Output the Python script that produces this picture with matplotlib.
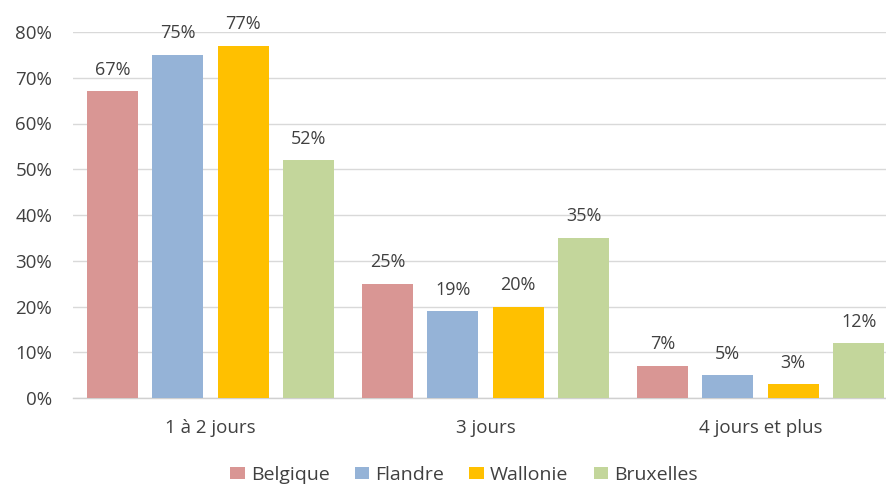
import matplotlib
matplotlib.use("Agg")
import matplotlib.pyplot as plt
import numpy as np
from matplotlib.ticker import FuncFormatter

categories = ["1 à 2 jours", "3 jours", "4 jours et plus"]
series_names = ["Belgique", "Flandre", "Wallonie", "Bruxelles"]
belgique = [67, 25, 7]
flandre = [75, 19, 5]
wallonie = [77, 20, 3]
bruxelles = [52, 35, 12]
colors = ["#d99694", "#95b3d7", "#ffc000", "#c3d69b"]
y_ticks = [0, 10, 20, 30, 40, 50, 60, 70, 80]

values = [belgique, flandre, wallonie, bruxelles]
text_color = "#404040"

plt.rcParams["font.family"] = ["Open Sans", "DejaVu Sans"]

fig = plt.figure(figsize=(8.86, 4.88), dpi=100)
ax = fig.add_axes([73 / 886, 90 / 488, 825 / 886, 366 / 488])

x = np.arange(len(categories))
pitch = 0.238
width = 0.186
for i, (name, vals, col) in enumerate(zip(series_names, values, colors)):
    pos = x + (i - 1.5) * pitch
    bars = ax.bar(pos, vals, width=width, color=col, label=name, zorder=3)
    for b, v in zip(bars, vals):
        ax.annotate(f"{v}%", (b.get_x() + b.get_width() / 2, v),
                    xytext=(0, 9), textcoords="offset points",
                    ha="center", va="bottom", fontsize=13,
                    color=text_color, clip_on=False)

ax.set_xlim(-0.5, 2.5)
ax.set_ylim(0, 80)
ax.set_yticks(y_ticks)
ax.yaxis.set_major_formatter(FuncFormatter(lambda v, p: f"{int(v)}%"))
ax.set_xticks(x)
ax.set_xticklabels(categories)
ax.tick_params(axis="both", length=0, labelsize=13.5, colors=text_color)
ax.tick_params(axis="x", pad=15)
ax.tick_params(axis="y", pad=15)
ax.grid(axis="y", color="#d9d9d9", linewidth=1, zorder=0)
for s in ["top", "right", "left"]:
    ax.spines[s].set_visible(False)
ax.spines["bottom"].set_color("#d0d0d0")
ax.spines["bottom"].set_linewidth(1)

leg = fig.legend(loc="center", bbox_to_anchor=(464 / 886, 13 / 488),
                 ncol=4, frameon=False, fontsize=14,
                 handlelength=0.75, handleheight=0.6, handletextpad=0.3,
                 columnspacing=1.3, borderpad=0.1)
for t in leg.get_texts():
    t.set_color(text_color)

fig.savefig("out.png", dpi=100)
